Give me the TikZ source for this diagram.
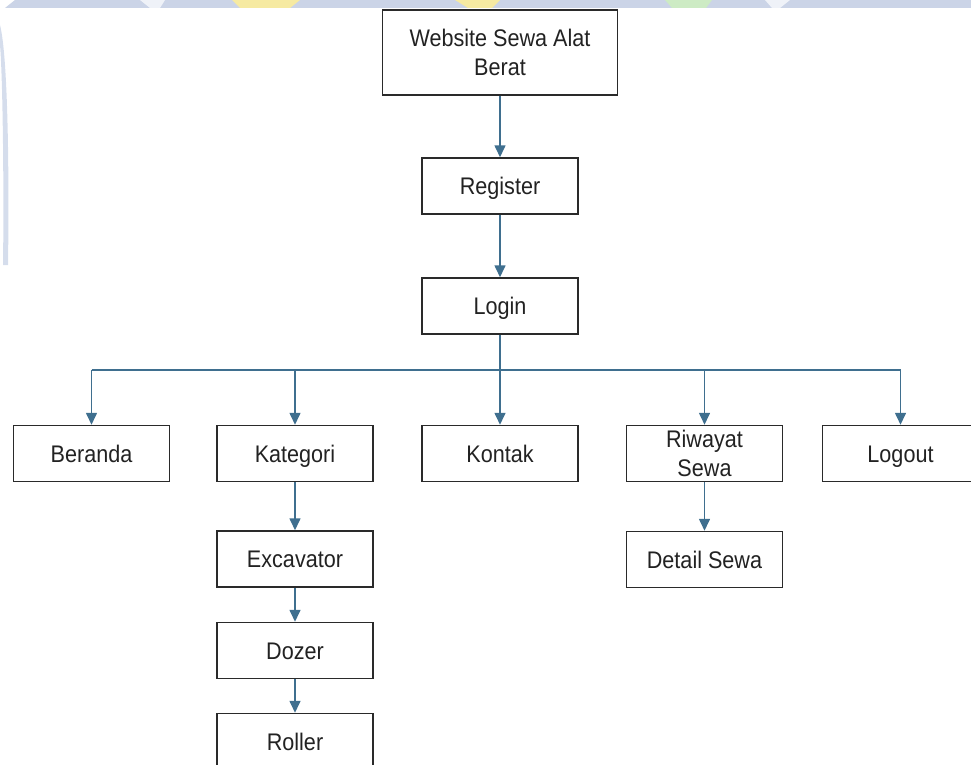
\documentclass[tikz,border=0pt]{standalone}
\usepackage{fontspec}
\setmainfont[FakeStretch=0.9]{Liberation Sans}
\usetikzlibrary{arrows.meta}
\definecolor{linkblue}{HTML}{3F6F8F}
\definecolor{boxline}{HTML}{2A2A2A}
\definecolor{inktext}{HTML}{222222}
\definecolor{markblue}{HTML}{CBD4E7}
\definecolor{markyellow}{HTML}{F6EAA2}
\definecolor{markgreen}{HTML}{CDEBC4}
\tikzset{
  menubase/.style={draw=boxline, line width=1.5pt, fill=white, rectangle,
    minimum width=156pt, minimum height=56pt, align=center,
    text=inktext, font=\fontsize{24}{29}\selectfont, inner sep=2pt},
  menubox/.style={menubase, text height=17pt, text depth=0pt},
  link/.style={draw=linkblue, line width=1.6pt,
    -{Triangle[width=11pt,length=12pt]}},
  trunk/.style={draw=linkblue, line width=1.6pt}
}
\begin{document}
\begin{tikzpicture}[x=1pt,y=-1pt]
\useasboundingbox (0,0) rectangle (971,765);
\begin{scope}
\clip (0,0) rectangle (971,765);
% faint logo band along the top edge
\fill[markblue] (15,0) -- (971,0) -- (971,8) -- (5,8) -- cycle;
\fill[markyellow] (232,0) -- (300,0) -- (290,8) -- (240,8) -- cycle;
\fill[markyellow] (455,0) -- (500,0) -- (492,8) -- (468,8) -- cycle;
\fill[markgreen] (665,0) -- (712,0) -- (706,8) -- (672,8) -- cycle;
\fill[white!70!markblue] (140,0) -- (165,0) -- (160,8) -- (150,8) -- cycle;
\fill[white!70!markblue] (765,0) -- (790,0) -- (780,8) -- (772,8) -- cycle;
% faint arc on the left edge
\fill[markblue!80] (0,25) .. controls (9,60) and (9,200) .. (8,265)
  -- (3,265) .. controls (4,200) and (3,80) .. (0,45) -- cycle;

% menu boxes
\node[menubase, minimum width=235pt, minimum height=85pt] (web) at (500,52.5) {Website Sewa Alat\\Berat};
\node[menubox] (reg) at (500,186) {Register};
\node[menubox] (login) at (500,306) {Login};
\node[menubox] (beranda) at (91.5,453.5) {Beranda};
\node[menubox] (kat) at (295,453.5) {Kategori};
\node[menubox] (kontak) at (500,453.5) {Kontak};
\node[menubase] (riwayat) at (704.5,453.5) {Riwayat\\Sewa};
\node[menubox] (logout) at (900.5,453.5) {Logout};
\node[menubox] (detail) at (704.5,559.5) {Detail Sewa};
\node[menubox] (exc) at (295,559) {Excavator};
\node[menubox] (dozer) at (295,650.5) {Dozer};
\node[menubox] (roller) at (295,741.5) {Roller};

% connectors
\coordinate (split) at (500,370);
\draw[link] (web) -- (reg);
\draw[link] (reg) -- (login);
\draw[trunk] (login.south) -- (split);
\draw[trunk] (beranda.north |- split) -- (logout.north |- split);
\foreach \n in {beranda,kat,kontak,riwayat,logout}
  \draw[link] (\n.north |- split) -- (\n.north);
\draw[link] (kat) -- (exc);
\draw[link] (exc) -- (dozer);
\draw[link] (dozer) -- (roller);
\draw[link] (riwayat) -- (detail);
\end{scope}
\end{tikzpicture}
\end{document}
